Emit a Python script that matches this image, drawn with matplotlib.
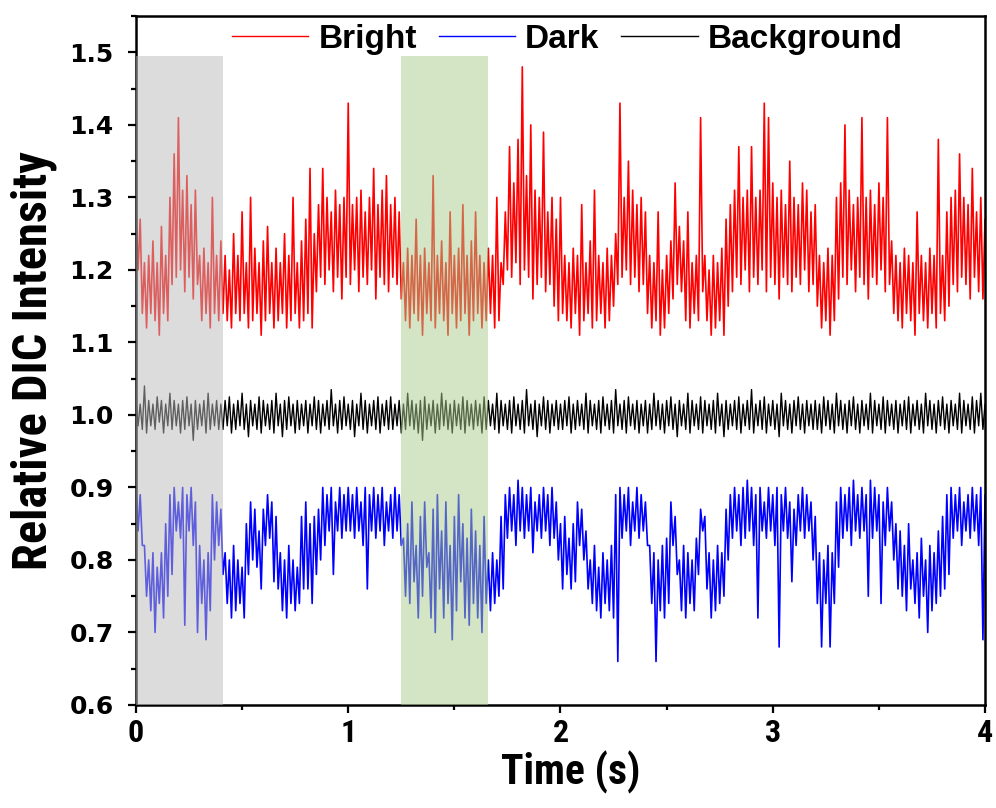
import numpy as np
from matplotlib import pyplot as plt
from matplotlib import font_manager
from matplotlib.ticker import MultipleLocator

# Traces read off the picture as upper / lower excursions of the noisy signal,
# one value every 0.02 s from 0 to 4 s (one row = 0.4 s).
dt = 0.02

bright_hi = [
    1.28, 1.27, 1.21, 1.22, 1.24, 1.21, 1.26, 1.22, 1.30, 1.36, 1.41, 1.31, 1.33, 1.29, 1.31, 1.22, 1.23, 1.21, 1.30, 1.22,
    1.24, 1.22, 1.20, 1.25, 1.22, 1.28, 1.21, 1.30, 1.23, 1.21, 1.24, 1.26, 1.21, 1.23, 1.21, 1.25, 1.22, 1.30, 1.21, 1.24,
    1.27, 1.34, 1.25, 1.29, 1.34, 1.30, 1.28, 1.31, 1.29, 1.30, 1.43, 1.29, 1.30, 1.31, 1.28, 1.30, 1.34, 1.29, 1.31, 1.33,
    1.29, 1.30, 1.28, 1.21, 1.23, 1.22, 1.27, 1.22, 1.23, 1.21, 1.33, 1.22, 1.24, 1.21, 1.28, 1.22, 1.23, 1.29, 1.22, 1.24,
    1.28, 1.22, 1.21, 1.23, 1.22, 1.30, 1.21, 1.28, 1.37, 1.32, 1.38, 1.48, 1.33, 1.40, 1.31, 1.30, 1.39, 1.28, 1.30, 1.27,
    1.30, 1.22, 1.21, 1.23, 1.22, 1.29, 1.21, 1.24, 1.31, 1.22, 1.21, 1.23, 1.22, 1.25, 1.43, 1.30, 1.35, 1.31, 1.29, 1.30,
    1.28, 1.22, 1.21, 1.28, 1.20, 1.22, 1.24, 1.32, 1.26, 1.24, 1.28, 1.21, 1.22, 1.41, 1.22, 1.20, 1.22, 1.21, 1.23, 1.27,
    1.29, 1.31, 1.37, 1.30, 1.31, 1.37, 1.30, 1.31, 1.43, 1.41, 1.32, 1.30, 1.31, 1.29, 1.35, 1.30, 1.29, 1.32, 1.31, 1.28,
    1.29, 1.22, 1.21, 1.23, 1.22, 1.30, 1.32, 1.40, 1.31, 1.29, 1.30, 1.41, 1.30, 1.31, 1.29, 1.32, 1.30, 1.41, 1.24, 1.22,
    1.21, 1.23, 1.22, 1.21, 1.28, 1.22, 1.21, 1.23, 1.22, 1.38, 1.22, 1.28, 1.30, 1.31, 1.36, 1.30, 1.29, 1.34, 1.28, 1.30,
    1.27,
]
bright_lo = [
    1.20, 1.14, 1.12, 1.14, 1.13, 1.11, 1.14, 1.13, 1.18, 1.19, 1.20, 1.17, 1.19, 1.16, 1.18, 1.13, 1.14, 1.12, 1.14, 1.13,
    1.14, 1.13, 1.12, 1.14, 1.13, 1.14, 1.12, 1.13, 1.14, 1.11, 1.13, 1.14, 1.12, 1.13, 1.14, 1.12, 1.13, 1.14, 1.12, 1.13,
    1.14, 1.12, 1.17, 1.19, 1.18, 1.20, 1.17, 1.19, 1.16, 1.19, 1.18, 1.20, 1.17, 1.19, 1.18, 1.20, 1.16, 1.19, 1.18, 1.17,
    1.19, 1.18, 1.16, 1.13, 1.12, 1.14, 1.13, 1.11, 1.14, 1.13, 1.12, 1.14, 1.13, 1.11, 1.14, 1.12, 1.13, 1.14, 1.11, 1.13,
    1.14, 1.12, 1.13, 1.14, 1.12, 1.13, 1.18, 1.20, 1.19, 1.21, 1.18, 1.20, 1.19, 1.16, 1.18, 1.19, 1.17, 1.18, 1.15, 1.13,
    1.14, 1.13, 1.12, 1.14, 1.11, 1.13, 1.14, 1.12, 1.13, 1.14, 1.12, 1.13, 1.15, 1.18, 1.19, 1.20, 1.18, 1.19, 1.17, 1.18,
    1.14, 1.12, 1.13, 1.11, 1.12, 1.14, 1.16, 1.18, 1.17, 1.13, 1.12, 1.14, 1.13, 1.17, 1.13, 1.11, 1.12, 1.13, 1.11, 1.15,
    1.17, 1.19, 1.18, 1.20, 1.17, 1.19, 1.18, 1.20, 1.17, 1.19, 1.18, 1.16, 1.19, 1.18, 1.17, 1.19, 1.18, 1.20, 1.17, 1.18,
    1.15, 1.12, 1.13, 1.11, 1.13, 1.16, 1.19, 1.18, 1.20, 1.17, 1.19, 1.18, 1.16, 1.19, 1.18, 1.20, 1.17, 1.18, 1.14, 1.13,
    1.12, 1.14, 1.13, 1.11, 1.14, 1.13, 1.12, 1.14, 1.12, 1.14, 1.13, 1.15, 1.18, 1.17, 1.19, 1.18, 1.16, 1.19, 1.17, 1.16,
    1.18,
]

dark_hi = [
    0.90, 0.89, 0.82, 0.80, 0.81, 0.79, 0.81, 0.85, 0.89, 0.90, 0.88, 0.90, 0.89, 0.90, 0.88, 0.82, 0.80, 0.81, 0.89, 0.88,
    0.87, 0.81, 0.80, 0.82, 0.80, 0.79, 0.85, 0.88, 0.87, 0.84, 0.87, 0.89, 0.88, 0.86, 0.81, 0.80, 0.82, 0.80, 0.79, 0.86,
    0.88, 0.85, 0.86, 0.87, 0.90, 0.89, 0.90, 0.88, 0.90, 0.89, 0.90, 0.89, 0.90, 0.88, 0.90, 0.89, 0.90, 0.89, 0.90, 0.88,
    0.89, 0.90, 0.89, 0.83, 0.85, 0.88, 0.82, 0.86, 0.88, 0.81, 0.87, 0.89, 0.84, 0.88, 0.82, 0.86, 0.89, 0.85, 0.83, 0.87,
    0.84, 0.82, 0.86, 0.80, 0.81, 0.80, 0.86, 0.89, 0.90, 0.89, 0.91, 0.90, 0.89, 0.90, 0.88, 0.89, 0.90, 0.89, 0.90, 0.88,
    0.85, 0.86, 0.83, 0.85, 0.88, 0.87, 0.84, 0.80, 0.82, 0.79, 0.81, 0.80, 0.82, 0.89, 0.90, 0.89, 0.90, 0.88, 0.90, 0.89,
    0.88, 0.82, 0.81, 0.80, 0.82, 0.83, 0.88, 0.86, 0.80, 0.82, 0.81, 0.80, 0.83, 0.87, 0.86, 0.81, 0.80, 0.82, 0.81, 0.87,
    0.89, 0.90, 0.89, 0.90, 0.91, 0.90, 0.89, 0.90, 0.88, 0.90, 0.89, 0.90, 0.89, 0.90, 0.88, 0.87, 0.89, 0.90, 0.89, 0.88,
    0.86, 0.81, 0.80, 0.82, 0.81, 0.88, 0.90, 0.89, 0.90, 0.91, 0.89, 0.90, 0.89, 0.91, 0.90, 0.89, 0.88, 0.90, 0.88, 0.85,
    0.84, 0.82, 0.85, 0.80, 0.81, 0.83, 0.80, 0.82, 0.81, 0.84, 0.86, 0.89, 0.90, 0.89, 0.90, 0.88, 0.89, 0.90, 0.89, 0.90,
    0.89,
]
dark_lo = [
    0.84, 0.82, 0.75, 0.73, 0.70, 0.74, 0.72, 0.75, 0.78, 0.84, 0.83, 0.71, 0.84, 0.82, 0.70, 0.74, 0.69, 0.73, 0.80, 0.82,
    0.78, 0.74, 0.72, 0.73, 0.74, 0.72, 0.78, 0.80, 0.79, 0.76, 0.82, 0.83, 0.77, 0.76, 0.73, 0.72, 0.74, 0.73, 0.74, 0.76,
    0.76, 0.74, 0.78, 0.80, 0.82, 0.84, 0.78, 0.84, 0.83, 0.84, 0.84, 0.83, 0.84, 0.82, 0.76, 0.84, 0.83, 0.84, 0.82, 0.84,
    0.83, 0.84, 0.82, 0.75, 0.74, 0.77, 0.72, 0.75, 0.79, 0.72, 0.70, 0.76, 0.72, 0.74, 0.69, 0.73, 0.77, 0.72, 0.71, 0.74,
    0.72, 0.70, 0.74, 0.73, 0.74, 0.75, 0.76, 0.83, 0.84, 0.82, 0.84, 0.83, 0.84, 0.81, 0.84, 0.83, 0.84, 0.82, 0.83, 0.80,
    0.76, 0.78, 0.76, 0.77, 0.82, 0.80, 0.76, 0.74, 0.73, 0.72, 0.74, 0.73, 0.72, 0.66, 0.83, 0.84, 0.82, 0.84, 0.83, 0.84,
    0.82, 0.74, 0.66, 0.73, 0.72, 0.74, 0.82, 0.78, 0.73, 0.72, 0.74, 0.73, 0.78, 0.84, 0.76, 0.72, 0.73, 0.74, 0.75, 0.80,
    0.83, 0.84, 0.82, 0.83, 0.84, 0.82, 0.72, 0.84, 0.83, 0.84, 0.82, 0.68, 0.84, 0.83, 0.77, 0.82, 0.84, 0.83, 0.84, 0.80,
    0.74, 0.68, 0.74, 0.68, 0.74, 0.79, 0.83, 0.84, 0.82, 0.84, 0.83, 0.84, 0.75, 0.83, 0.84, 0.74, 0.82, 0.84, 0.80, 0.76,
    0.75, 0.73, 0.76, 0.74, 0.72, 0.75, 0.70, 0.73, 0.74, 0.75, 0.76, 0.78, 0.83, 0.84, 0.82, 0.84, 0.83, 0.84, 0.82, 0.69,
    0.84,
]

background_hi = [
    1.02, 1.015, 1.04, 1.02, 1.015, 1.025, 1.02, 1.015, 1.03, 1.02, 1.015, 1.02, 1.025, 1.015, 1.02, 1.015, 1.02, 1.03, 1.015, 1.02,
    1.015, 1.02, 1.025, 1.015, 1.02, 1.03, 1.015, 1.02, 1.015, 1.025, 1.02, 1.015, 1.02, 1.03, 1.015, 1.02, 1.025, 1.015, 1.02, 1.015,
    1.02, 1.015, 1.025, 1.02, 1.015, 1.02, 1.035, 1.015, 1.02, 1.025, 1.015, 1.02, 1.015, 1.03, 1.02, 1.015, 1.02, 1.025, 1.015, 1.02,
    1.025, 1.015, 1.02, 1.015, 1.03, 1.02, 1.015, 1.02, 1.025, 1.015, 1.02, 1.015, 1.03, 1.02, 1.015, 1.02, 1.015, 1.025, 1.02, 1.015,
    1.02, 1.015, 1.025, 1.02, 1.015, 1.03, 1.02, 1.015, 1.02, 1.025, 1.015, 1.02, 1.035, 1.015, 1.02, 1.015, 1.025, 1.02, 1.015, 1.02,
    1.015, 1.02, 1.025, 1.015, 1.02, 1.015, 1.03, 1.02, 1.015, 1.02, 1.025, 1.015, 1.02, 1.035, 1.015, 1.02, 1.025, 1.015, 1.02, 1.015,
    1.02, 1.015, 1.03, 1.02, 1.015, 1.02, 1.025, 1.015, 1.02, 1.015, 1.03, 1.02, 1.015, 1.025, 1.02, 1.015, 1.02, 1.03, 1.015, 1.02,
    1.015, 1.02, 1.025, 1.015, 1.02, 1.035, 1.015, 1.02, 1.025, 1.015, 1.02, 1.015, 1.03, 1.02, 1.015, 1.02, 1.025, 1.015, 1.02, 1.015,
    1.02, 1.015, 1.025, 1.02, 1.015, 1.03, 1.02, 1.015, 1.02, 1.025, 1.015, 1.02, 1.015, 1.03, 1.02, 1.015, 1.025, 1.02, 1.015, 1.02,
    1.015, 1.02, 1.025, 1.015, 1.02, 1.015, 1.03, 1.02, 1.015, 1.02, 1.025, 1.015, 1.02, 1.015, 1.03, 1.02, 1.015, 1.025, 1.02, 1.03,
    1.015,
]
background_lo = [
    0.985, 0.98, 0.975, 0.985, 0.98, 0.99, 0.975, 0.985, 0.98, 0.985, 0.975, 0.98, 0.985, 0.965, 0.98, 0.985, 0.975, 0.98, 0.985, 0.98,
    0.98, 0.985, 0.975, 0.98, 0.985, 0.98, 0.97, 0.985, 0.98, 0.975, 0.985, 0.98, 0.975, 0.985, 0.97, 0.98, 0.985, 0.975, 0.98, 0.985,
    0.975, 0.985, 0.98, 0.975, 0.985, 0.98, 0.985, 0.975, 0.98, 0.985, 0.98, 0.97, 0.985, 0.98, 0.975, 0.985, 0.98, 0.975, 0.985, 0.98,
    0.98, 0.985, 0.975, 0.98, 0.985, 0.98, 0.975, 0.965, 0.98, 0.985, 0.975, 0.98, 0.985, 0.98, 0.975, 0.985, 0.98, 0.975, 0.985, 0.98,
    0.985, 0.975, 0.98, 0.985, 0.98, 0.975, 0.985, 0.98, 0.975, 0.985, 0.98, 0.975, 0.985, 0.98, 0.97, 0.985, 0.98, 0.975, 0.985, 0.98,
    0.98, 0.985, 0.975, 0.98, 0.985, 0.98, 0.975, 0.985, 0.98, 0.975, 0.985, 0.98, 0.975, 0.985, 0.98, 0.975, 0.985, 0.98, 0.975, 0.985,
    0.975, 0.98, 0.985, 0.98, 0.975, 0.985, 0.98, 0.97, 0.985, 0.98, 0.975, 0.985, 0.98, 0.975, 0.985, 0.98, 0.975, 0.985, 0.97, 0.98,
    0.985, 0.98, 0.975, 0.985, 0.98, 0.975, 0.985, 0.98, 0.975, 0.985, 0.98, 0.97, 0.985, 0.98, 0.975, 0.985, 0.98, 0.975, 0.985, 0.98,
    0.98, 0.975, 0.985, 0.98, 0.975, 0.985, 0.98, 0.975, 0.985, 0.98, 0.975, 0.985, 0.98, 0.975, 0.985, 0.98, 0.975, 0.985, 0.98, 0.975,
    0.985, 0.98, 0.975, 0.985, 0.98, 0.975, 0.985, 0.98, 0.975, 0.985, 0.98, 0.975, 0.985, 0.98, 0.975, 0.985, 0.98, 0.975, 0.985, 0.98,
    0.99,
]

# shaded time windows (s)
gray_window = (0.0, 0.41)
green_window = (1.25, 1.66)
shade_top = 1.495

yticks = [0.6, 0.7, 0.8, 0.9, 1.0, 1.1, 1.2, 1.3, 1.4, 1.5]
xticks = [0, 1, 2, 3, 4]


def zigzag(hi, lo):
    # upper sample then lower sample half a step later
    t_hi = np.arange(len(hi)) * dt
    t = np.column_stack([t_hi, t_hi + dt / 2]).ravel()
    y = np.column_stack([hi, lo]).ravel()
    return t, y


installed = {f.name for f in font_manager.fontManager.ttflist}
narrow = 'Liberation Sans'
for cand in ['Liberation Sans Narrow', 'Roboto Condensed', 'Open Sans Condensed', 'Arial Narrow', 'Nimbus Sans Narrow']:
    if cand in installed:
        narrow = cand
        break

fig = plt.figure(figsize=(9.96, 8.08), dpi=100)
ax = fig.add_axes([0.1365, 0.1275, 0.8525, 0.8525])

t, y = zigzag(bright_hi, bright_lo)
ax.plot(t, y, color='red', lw=1.2, label='Bright')
t, y = zigzag(dark_hi, dark_lo)
ax.plot(t, y, color='blue', lw=1.2, label='Dark')
t, y = zigzag(background_hi, background_lo)
ax.plot(t, y, color='black', lw=1.0, label='Background')

ax.fill_between(gray_window, 0.6, shade_top, color=(188/255, 188/255, 188/255), alpha=0.51, lw=0, zorder=3)
ax.fill_between(green_window, 0.6, shade_top, color=(169/255, 204/255, 141/255), alpha=0.51, lw=0, zorder=3)

ax.set_xlim(0, 4)
ax.set_ylim(0.6, 1.55)
ax.xaxis.set_minor_locator(MultipleLocator(0.5))
ax.yaxis.set_minor_locator(MultipleLocator(0.05))
ax.set_xticks(xticks)
ax.set_yticks(yticks)
ax.tick_params(which='major', direction='out', length=6, width=1.6, top=False, right=False)
ax.tick_params(which='minor', direction='out', length=3.5, width=1.6, top=False, right=False)
ax.tick_params(axis='y', pad=10)
for s in ax.spines.values():
    s.set_linewidth(1.8)

ax.set_xticklabels([str(v) for v in xticks], fontfamily=narrow, fontweight='bold', fontsize=23)
ax.set_yticklabels([f'{v:.1f}' for v in yticks], fontfamily='DejaVu Sans', fontweight='bold', fontsize=18)

ax.set_xlabel('Time (s)', fontfamily=narrow, fontweight='bold', fontsize=30, labelpad=2)
ax.xaxis.label.set_x(0.512)
ax.set_ylabel('Relative DIC Intensity', fontfamily=narrow, fontweight='bold', fontsize=35, labelpad=9)

leg = ax.legend(loc='center', bbox_to_anchor=(0.508, 0.966), ncol=3, frameon=False,
                prop={'family': 'Liberation Sans', 'weight': 'bold', 'size': 24},
                handlelength=2.3, handletextpad=0.3, columnspacing=0.65, borderpad=0.1)
for h in leg.get_lines():
    h.set_linewidth(1.0)

fig.savefig('out.png', dpi=100)
